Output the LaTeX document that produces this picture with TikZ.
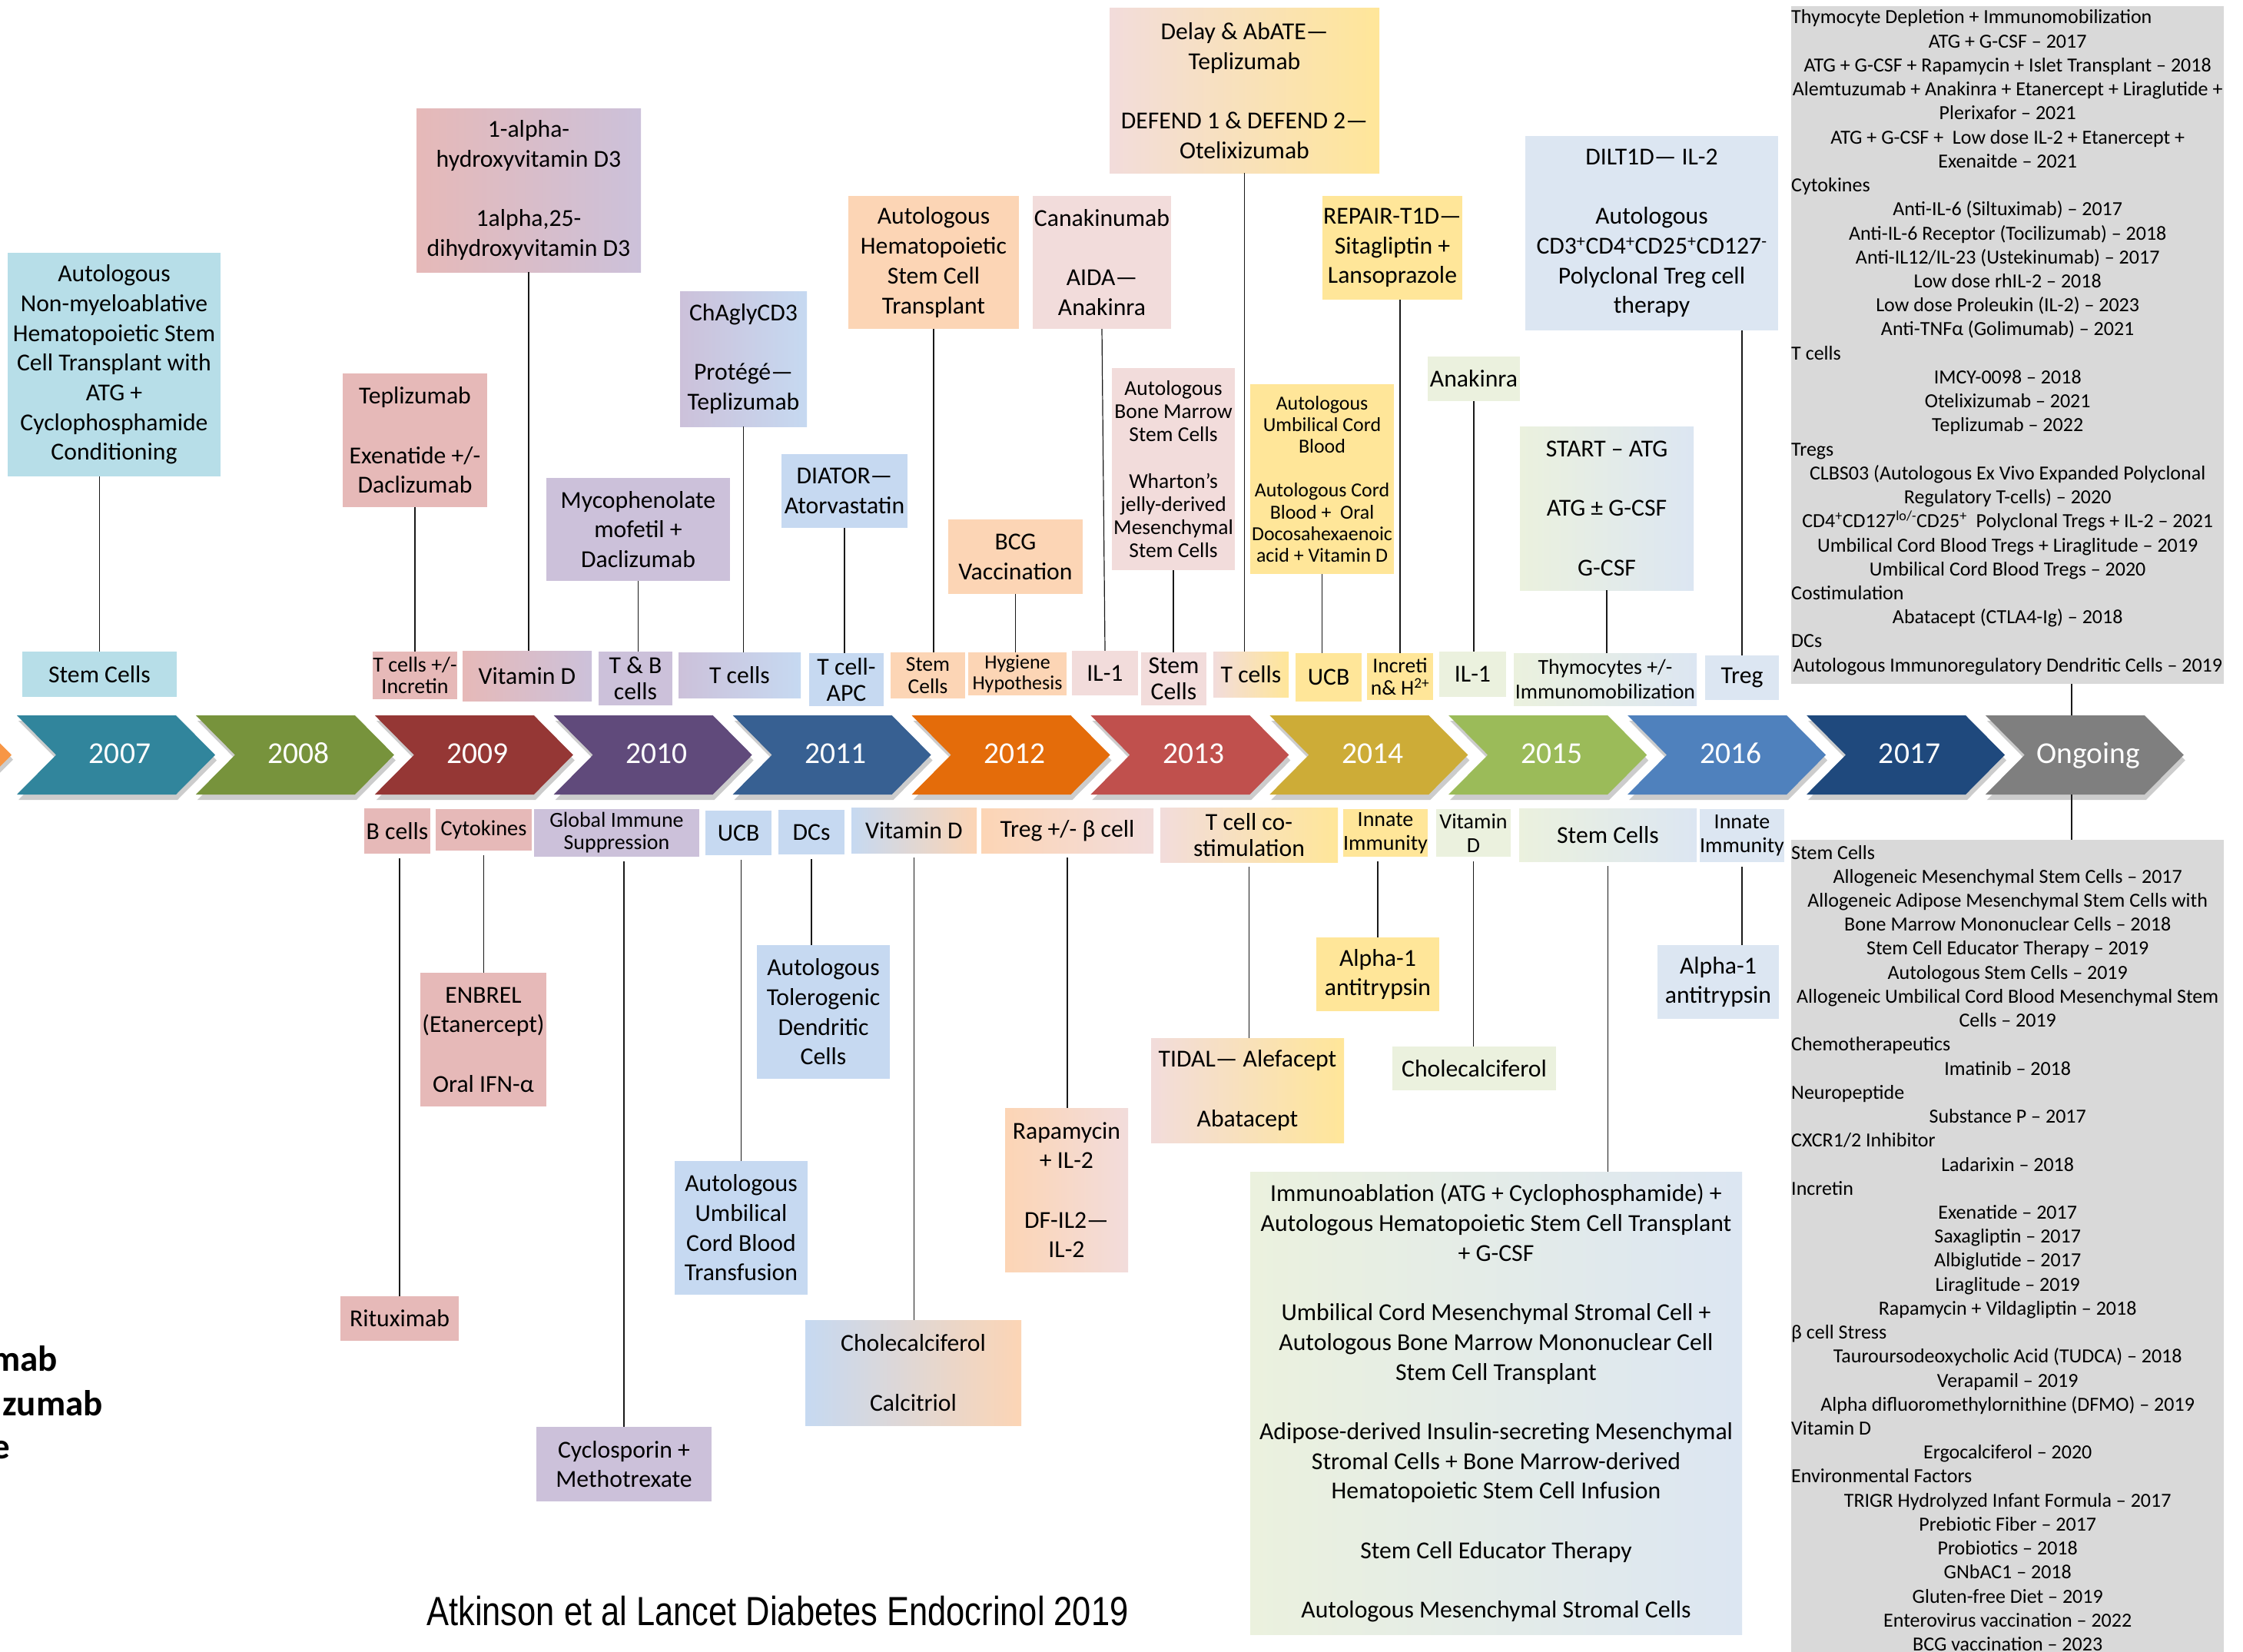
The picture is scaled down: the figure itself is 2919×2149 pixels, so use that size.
\documentclass[tikz,border=0pt]{standalone}
\usepackage{fontspec}
\setmainfont{Carlito}
\newfontfamily\titlefont[FakeStretch=0.82]{Liberation Sans}
\definecolor{cBT}{HTML}{B7DEE8}
\definecolor{cPink}{HTML}{E6B9B8}
\definecolor{cLav}{HTML}{CCC1DA}
\definecolor{cLBlue}{HTML}{C6D9F1}
\definecolor{cPeach}{HTML}{FCD5B5}
\definecolor{cLPink}{HTML}{F2DCDB}
\definecolor{cYel}{HTML}{FFE699}
\definecolor{cLGreen}{HTML}{EBF1DE}
\definecolor{cPBlue}{HTML}{DCE6F2}
\definecolor{cGrey}{HTML}{D9D9D9}
\definecolor{chOr}{HTML}{F79646}
\definecolor{ch1}{HTML}{31859C}
\definecolor{ch2}{HTML}{77933C}
\definecolor{ch3}{HTML}{953735}
\definecolor{ch4}{HTML}{604A7B}
\definecolor{ch5}{HTML}{376092}
\definecolor{ch6}{HTML}{E46C0A}
\definecolor{ch7}{HTML}{C0504D}
\definecolor{ch8}{HTML}{CDAC37}
\definecolor{ch9}{HTML}{9BBB59}
\definecolor{ch10}{HTML}{4F81BD}
\definecolor{ch11}{HTML}{1F497D}
\definecolor{ch12}{HTML}{7F7F7F}
\newcommand{\bl}{\mbox{}}
\newcommand{\Lline}[1]{\par\hbox to\hsize{#1\hss}}
\newcommand{\Cline}[1]{\par\hbox to\hsize{\hss#1\hss}}
\newcommand{\mybox}[7]{%
  \node[box,#6,minimum width={(#4)-(#2)},minimum height={(#5)-(#3)}] (#1) at ({((#2)+(#4))/2},{((#3)+(#5))/2}) {#7};}
\begin{document}
\begin{tikzpicture}[x=1pt,y=-1pt,
  box/.style={inner sep=0pt,align=center,anchor=center},
  fA/.style={font=\fontsize{31.7}{38.7}\selectfont},
  fB/.style={font=\fontsize{31.7}{34}\selectfont},
  fC/.style={font=\fontsize{28}{31}\selectfont},
  year/.style={anchor=base,text=white,inner sep=0pt,font=\fontsize{39.5}{40}\selectfont},
  conn/.style={draw=black!90,line width=1.2pt},
  bconn/.style={conn,shorten <=6pt},
  cut/.style={anchor=base east,inner sep=0pt,font=\bfseries\fontsize{47}{57}\selectfont},
  ptext/.style={anchor=base west,inner sep=0pt,font=\fontsize{26}{31.23}\selectfont}]
\useasboundingbox (0,0) rectangle (2919,2149);
\clip (0,0) rectangle (2919,2149);
\fill[white] (0,0) rectangle (2919,2149);

% ---------- timeline chevrons ----------
\fill[black,opacity=.2] (-241,937) -- (-34,937) -- (17,988.5) -- (-34,1040) -- (-241,1040) -- cycle;
\fill[chOr] (-243,931) -- (-36,931) -- (15,982.5) -- (-36,1034) -- (-243,1034) -- cycle;
\foreach \i/\t in {1/2007,2/2008,3/2009,4/2010,5/2011,6/2012,7/2013,8/2014,9/2015,10/2016,11/2017,12/Ongoing}{
  \pgfmathsetmacro{\L}{22+232.9*(\i-1)}
  \fill[black,opacity=.2] ({\L+2},938) -- ({\L+209},938) -- ({\L+260},989.5) -- ({\L+209},1041) -- ({\L+2},1041) -- ({\L+53},989.5) -- cycle;
  \fill[ch\i] (\L,931) -- ({\L+207},931) -- ({\L+258},982.5) -- ({\L+207},1034) -- (\L,1034) -- ({\L+51},982.5) -- cycle;
  \node[year] (yr\i) at ({\L+134},993) {\t};
}
\coordinate (ongTop) at (2696,931);
\coordinate (ongBot) at (2696,1034);

% ---------- upper boxes ----------
\mybox{T1}{10}{329}{287}{620}{fill=cBT,fA}{Autologous\\Non-myeloablative\\Hematopoietic Stem\\Cell Transplant with\\ATG +\\Cyclophosphamide\\Conditioning}
\mybox{S1}{29}{848}{230}{907}{fill=cBT,fA}{Stem Cells}
\mybox{T2}{446}{486}{634}{660}{fill=cPink,fA}{Teplizumab\\\bl\\Exenatide +/-\\Daclizumab}
\mybox{S2}{485}{848}{595}{910}{fill=cPink,font=\fontsize{28}{28.5}\selectfont}{T cells +/-\\Incretin}
\mybox{T3}{542}{141}{834}{354}{left color=cPink,right color=cLav,fA}{1-alpha-\\hydroxyvitamin D3\\\bl\\1alpha,25-\\dihydroxyvitamin D3}
\mybox{S3}{602}{847}{770}{912}{left color=cPink,right color=cLav,fA}{Vitamin D}
\mybox{T4}{711}{622}{950}{756}{fill=cLav,fA}{Mycophenolate\\mofetil +\\Daclizumab}
\mybox{S4}{779}{848}{875}{918}{fill=cLav,fB}{T \& B\\cells}
\mybox{T5}{885}{379}{1050}{555}{left color=cLav,right color=cLBlue,fA}{ChAglyCD3\\\bl\\Protégé—\\Teplizumab}
\mybox{S5}{883}{849}{1042}{908}{left color=cLav,right color=cLBlue,fA}{T cells}
\mybox{T6}{1017}{591}{1181}{687}{fill=cLBlue,fA}{DIATOR—\\Atorvastatin}
\mybox{S6}{1053}{850}{1150}{919}{fill=cLBlue,fB}{T cell-\\APC}
\mybox{T7}{1104}{255}{1326}{428}{fill=cPeach,fA}{Autologous\\Hematopoietic\\Stem Cell\\Transplant}
\mybox{S7}{1159}{849}{1256}{909}{fill=cPeach,font=\fontsize{27.5}{29}\selectfont}{Stem\\Cells}
\mybox{T8}{1234}{676}{1409}{773}{fill=cPeach,fA}{BCG\\Vaccination}
\mybox{S8}{1260}{849}{1388}{905}{fill=cPeach,font=\fontsize{26}{27.5}\selectfont}{Hygiene\\Hypothesis}
\mybox{T9}{1344}{255}{1524}{428}{fill=cLPink,fA}{Canakinumab\\\bl\\AIDA—\\Anakinra}
\mybox{S9}{1395}{847}{1481}{905}{fill=cLPink,fA}{IL-1}
\mybox{T10}{1447}{479}{1607}{742}{fill=cLPink,font=\fontsize{27.5}{30.2}\selectfont}{Autologous\\Bone Marrow\\Stem Cells\\\bl\\Wharton’s\\jelly-derived\\Mesenchymal\\Stem Cells}
\mybox{S10}{1485}{849}{1570}{918}{fill=cLPink,fB}{Stem\\Cells}
\mybox{T11}{1444}{11}{1795}{225}{left color=cLPink,right color=cYel,fA}{Delay \& AbATE—\\Teplizumab\\\bl\\DEFEND 1 \& DEFEND 2—\\Otelixizumab}
\mybox{S11}{1579}{848}{1677}{907}{left color=cLPink,right color=cYel,fA}{T cells}
\mybox{T12}{1627}{500}{1814}{747}{fill=cYel,font=\fontsize{25.9}{28.4}\selectfont}{Autologous\\Umbilical Cord\\Blood\\\bl\\Autologous Cord\\Blood +\ \ Oral\\Docosahexaenoic\\acid + Vitamin D}
\mybox{S12}{1686}{850}{1772}{913}{fill=cYel,fA}{UCB}
\mybox{T13}{1721}{255}{1903}{390}{fill=cYel,fA}{REPAIR-T1D—\\Sitagliptin +\\Lansoprazole}
\mybox{S13}{1779}{850}{1865}{911}{fill=cYel,font=\fontsize{27.5}{29}\selectfont}{Increti\\n\& H\textsuperscript{2+}}
\mybox{T14}{1858}{464}{1978}{522}{fill=cLGreen,fA}{Anakinra}
\mybox{S14}{1873}{848}{1960}{907}{fill=cLGreen,fA}{IL-1}
\mybox{T15}{1985}{177}{2314}{430}{fill=cPBlue,fA}{DILT1D— IL-2\\\bl\\Autologous\\CD3\textsuperscript{+}CD4\textsuperscript{+}CD25\textsuperscript{+}CD127\textsuperscript{-}\\Polyclonal Treg cell\\therapy}
\mybox{S15}{2219}{853}{2315}{911}{fill=cPBlue,fA}{Treg}
\mybox{T16}{1978}{555}{2204}{768}{left color=cLGreen,right color=cPBlue,fA}{START – ATG\\\bl\\ATG ± G-CSF\\\bl\\G-CSF}
\mybox{S16}{1970}{850}{2208}{918}{left color=cLGreen,right color=cPBlue,font=\fontsize{27.8}{31.5}\selectfont}{Thymocytes +/-\\Immunomobilization}

% ---------- lower boxes ----------
\mybox{B1}{474}{1052}{560}{1111}{fill=cPink,fA}{B cells}
\mybox{B2}{567}{1053}{692}{1107}{fill=cPink,font=\fontsize{28.4}{31}\selectfont}{Cytokines}
\mybox{B3}{695}{1053}{910}{1115}{fill=cLav,font=\fontsize{27.9}{29}\selectfont}{Global Immune\\Suppression}
\mybox{B4}{918}{1055}{1004}{1113}{fill=cLBlue,fA}{UCB}
\mybox{B5}{1013}{1054}{1099}{1112}{fill=cLBlue,fA}{DCs}
\mybox{B6}{1108}{1051}{1271}{1110}{left color=cLBlue,right color=cPeach,fA}{Vitamin D}
\mybox{B7}{1277}{1052}{1501}{1110}{left color=cPeach,right color=cLPink,fA}{Treg +/- β cell}
\mybox{B8}{1510}{1051}{1741}{1122}{left color=cLPink,right color=cYel,fB}{T cell co-\\stimulation}
\mybox{B9}{1748}{1053}{1858}{1115}{fill=cYel,fC}{Innate\\Immunity}
\mybox{B10}{1869}{1053}{1966}{1115}{fill=cLGreen,fC}{Vitamin\\D}
\mybox{B11}{1977}{1052}{2208}{1121}{left color=cLGreen,right color=cPBlue,fA}{Stem Cells}
\mybox{B12}{2213}{1053}{2321}{1122}{fill=cPBlue,fC}{Innate\\Immunity}

\mybox{L1}{443}{1687}{597}{1745}{fill=cPink,fA}{Rituximab}
\mybox{L2}{547}{1266}{711}{1440}{fill=cPink,fA}{ENBREL\\(Etanercept)\\\bl\\Oral IFN-α}
\mybox{L3}{698}{1857}{926}{1954}{fill=cLav,fA}{Cyclosporin +\\Methotrexate}
\mybox{L4}{878}{1511}{1051}{1685}{fill=cLBlue,fA}{Autologous\\Umbilical\\Cord Blood\\Transfusion}
\mybox{L5}{985}{1230}{1158}{1404}{fill=cLBlue,fA}{Autologous\\Tolerogenic\\Dendritic\\Cells}
\mybox{L6}{1048}{1718}{1329}{1855}{left color=cLBlue,right color=cPeach,fA}{Cholecalciferol\\\bl\\Calcitriol}
\mybox{L7}{1308}{1442}{1468}{1655}{left color=cPeach,right color=cLPink,fA}{Rapamycin\\+ IL-2\\\bl\\DF-IL2—\\IL-2}
\mybox{L8}{1498}{1351}{1749}{1487}{left color=cLPink,right color=cYel,fA}{TIDAL— Alefacept\\\bl\\Abatacept}
\mybox{L9}{1713}{1220}{1873}{1316}{fill=cYel,fA}{Alpha-1\\antitrypsin}
\mybox{L10}{1812}{1362}{2025}{1419}{fill=cLGreen,fA}{Cholecalciferol}
\mybox{L11}{1627}{1525}{2267}{2127}{left color=cLGreen,right color=cPBlue,fA}{Immunoablation (ATG + Cyclophosphamide) +\\Autologous Hematopoietic Stem Cell Transplant\\+ G-CSF\\\bl\\Umbilical Cord Mesenchymal Stromal Cell +\\Autologous Bone Marrow Mononuclear Cell\\Stem Cell Transplant\\\bl\\Adipose-derived Insulin-secreting Mesenchymal\\Stromal Cells + Bone Marrow-derived\\Hematopoietic Stem Cell Infusion\\\bl\\Stem Cell Educator Therapy\\\bl\\Autologous Mesenchymal Stromal Cells}
\mybox{L12}{2157}{1230}{2315}{1326}{fill=cPBlue,fA}{Alpha-1\\antitrypsin}

% ---------- grey panels ----------
\node[fill=cGrey,inner sep=0pt,minimum width=563,minimum height=882,anchor=north west] (PT) at (2331,8) {};
\node[fill=cGrey,inner sep=0pt,minimum width=563,minimum height=1070,anchor=north west] (PB) at (2331,1093) {};
\node[ptext] (PTt) at (2331,31) {\vtop{\hsize=563pt
\Lline{Thymocyte Depletion + Immunomobilization}
\Cline{ATG + G-CSF – 2017}
\Cline{ATG + G-CSF + Rapamycin + Islet Transplant – 2018}
\Cline{Alemtuzumab + Anakinra + Etanercept + Liraglutide +}
\Cline{Plerixafor – 2021}
\Cline{ATG + G-CSF +\ \ Low dose IL-2 + Etanercept +}
\Cline{Exenaitde – 2021}
\Lline{Cytokines}
\Cline{Anti-IL-6 (Siltuximab) – 2017}
\Cline{Anti-IL-6 Receptor (Tocilizumab) – 2018}
\Cline{Anti-IL12/IL-23 (Ustekinumab) – 2017}
\Cline{Low dose rhIL-2 – 2018}
\Cline{Low dose Proleukin (IL-2) – 2023}
\Cline{Anti-TNFα (Golimumab) – 2021}
\Lline{T cells}
\Cline{IMCY-0098 – 2018}
\Cline{Otelixizumab – 2021}
\Cline{Teplizumab – 2022}
\Lline{Tregs}
\Cline{CLBS03 (Autologous Ex Vivo Expanded Polyclonal}
\Cline{Regulatory T-cells) – 2020}
\Cline{CD4\textsuperscript{+}CD127\textsuperscript{lo/-}CD25\textsuperscript{+}\ \ Polyclonal Tregs + IL-2 – 2021}
\Cline{Umbilical Cord Blood Tregs + Liraglitude – 2019}
\Cline{Umbilical Cord Blood Tregs – 2020}
\Lline{Costimulation}
\Cline{Abatacept (CTLA4-Ig) – 2018}
\Lline{DCs}
\Cline{Autologous Immunoregulatory Dendritic Cells – 2019}}};
\node[ptext] (PBt) at (2331,1118) {\vtop{\hsize=563pt
\Lline{Stem Cells}
\Cline{Allogeneic Mesenchymal Stem Cells – 2017}
\Cline{Allogeneic Adipose Mesenchymal Stem Cells with}
\Cline{Bone Marrow Mononuclear Cells – 2018}
\Cline{Stem Cell Educator Therapy – 2019}
\Cline{Autologous Stem Cells – 2019}
\Cline{Allogeneic Umbilical Cord Blood Mesenchymal Stem}
\Cline{Cells – 2019}
\Lline{Chemotherapeutics}
\Cline{Imatinib – 2018}
\Lline{Neuropeptide}
\Cline{Substance P – 2017}
\Lline{CXCR1/2 Inhibitor}
\Cline{Ladarixin – 2018}
\Lline{Incretin}
\Cline{Exenatide – 2017}
\Cline{Saxagliptin – 2017}
\Cline{Albiglutide – 2017}
\Cline{Liraglitude – 2019}
\Cline{Rapamycin + Vildagliptin – 2018}
\Lline{β cell Stress}
\Cline{Tauroursodeoxycholic Acid (TUDCA) – 2018}
\Cline{Verapamil – 2019}
\Cline{Alpha difluoromethylornithine (DFMO) – 2019}
\Lline{Vitamin D}
\Cline{Ergocalciferol – 2020}
\Lline{Environmental Factors}
\Cline{TRIGR Hydrolyzed Infant Formula – 2017}
\Cline{Prebiotic Fiber – 2017}
\Cline{Probiotics – 2018}
\Cline{GNbAC1 – 2018}
\Cline{Gluten-free Diet – 2019}
\Cline{Enterovirus vaccination – 2022}
\Cline{BCG vaccination – 2023}}};

% ---------- connectors ----------
\draw[conn] (T1.south -| S1.north) -- (S1.north);
\draw[conn] (T2.south) -- (T2.south |- S2.north);
\draw[conn] (T3.south) -- (T3.south |- S3.north);
\draw[conn] (T4.south) -- (T4.south |- S4.north);
\draw[conn] (T5.south) -- (T5.south |- S5.north);
\draw[conn] (T6.south) -- (T6.south |- S6.north);
\draw[conn] (T7.south) -- (T7.south |- S7.north);
\draw[conn] (T8.south) -- (T8.south |- S8.north);
\draw[conn] (T9.south) -- (S9.north);
\draw[conn] (T10.south) -- (T10.south |- S10.north);
\draw[conn] (T11.south) -- (T11.south |- S11.north);
\draw[conn] (T12.south) -- (T12.south |- S12.north);
\draw[conn] (T13.south -| S13.north) -- (S13.north);
\draw[conn] (T14.south) -- (T14.south |- S14.north);
\draw[conn] (T15.south -| S15.north) -- (S15.north);
\draw[conn] (T16.south) -- (T16.south |- S16.north);
\draw[conn] (PT.south -| ongTop) -- (ongTop);
\draw[conn] (ongBot) -- (ongBot |- PB.north);

\draw[bconn] (B1.south -| L1.north) -- (L1.north);
\draw[bconn] (B2.south) -- (B2.south |- L2.north);
\draw[bconn] (B3.south -| L3.north) -- (L3.north);
\draw[bconn] (B4.south -| L4.north) -- (L4.north);
\draw[bconn] (B5.south) -- (B5.south |- L5.north);
\draw[bconn] (B6.south) -- (B6.south |- L6.north);
\draw[bconn] (B7.south) -- (B7.south |- L7.north);
\draw[bconn] (B8.south) -- (B8.south |- L8.north);
\draw[bconn] (B9.south -| L9.north) -- (L9.north);
\draw[bconn] (B10.south) -- (B10.south |- L10.north);
\draw[bconn] (B11.south) -- (B11.south |- L11.north);
\draw[bconn] (B12.south) -- (B12.south |- L12.north);

% ---------- title and clipped text ----------
\node[anchor=base,inner sep=0pt,font=\titlefont\fontsize{53}{60}\selectfont] (title) at (1012,2115) {Atkinson et al Lancet Diabetes Endocrinol 2019};
\node[cut] (cutA) at (75,1784) {mab};
\node[cut] (cutB) at (134,1842) {zumab};
\node[cut] (cutC) at (13,1898) {e};
\end{tikzpicture}
\end{document}
